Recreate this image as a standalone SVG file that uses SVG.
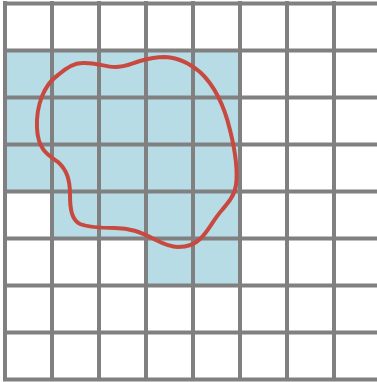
<svg xmlns="http://www.w3.org/2000/svg" width="377" height="382" viewBox="0 0 377 382">
  <style>
    .grid line { stroke: #808080; stroke-width: 4; }
    .fill { fill: #b7dce6; }
    .curve { fill: none; stroke: #c8493f; stroke-width: 4; stroke-linejoin: round; }
  </style>
  <rect width="377" height="382" fill="#ffffff"/>
  <polygon class="fill" points="5,50.5 240,50.5 240,285.5 146,285.5 146,238.5 52,238.5 52,191.5 5,191.5"/>
  <g class="grid">
    <line x1="5" y1="1" x2="5" y2="381"/>
    <line x1="52" y1="1" x2="52" y2="381"/>
    <line x1="99" y1="1" x2="99" y2="381"/>
    <line x1="146" y1="1" x2="146" y2="381"/>
    <line x1="193" y1="1" x2="193" y2="381"/>
    <line x1="240" y1="1" x2="240" y2="381"/>
    <line x1="287" y1="1" x2="287" y2="381"/>
    <line x1="334" y1="1" x2="334" y2="381"/>
    <line x1="3" y1="3.5" x2="377" y2="3.5"/>
    <line x1="3" y1="50.5" x2="377" y2="50.5"/>
    <line x1="3" y1="97.5" x2="377" y2="97.5"/>
    <line x1="3" y1="144.5" x2="377" y2="144.5"/>
    <line x1="3" y1="191.5" x2="377" y2="191.5"/>
    <line x1="3" y1="238.5" x2="377" y2="238.5"/>
    <line x1="3" y1="285.5" x2="377" y2="285.5"/>
    <line x1="3" y1="332.5" x2="377" y2="332.5"/>
    <line x1="3" y1="379.5" x2="377" y2="379.5"/>
  </g>
  <path class="curve" d="M 37,128 C 36,105 44,85 58,75 C 66,68 74,63 82,63 C 95,62 105,67 115,67 C 125,67 130,64 140,61 C 150,58 157,57 165,57 C 180,58 190,64 200,72 C 213,84 224,105 230,130 C 235,150 238,170 236,185 C 235,195 228,203 222,210 C 213,220 208,232 200,239 C 194,245 186,247 178,247 C 168,247 160,242 152,238 C 140,232 130,228 115,228 C 100,228 88,227 80,224 C 72,220 70,210 70,195 C 70,180 67,170 58,162 C 48,155 38,150 37,128 Z"/>
</svg>
